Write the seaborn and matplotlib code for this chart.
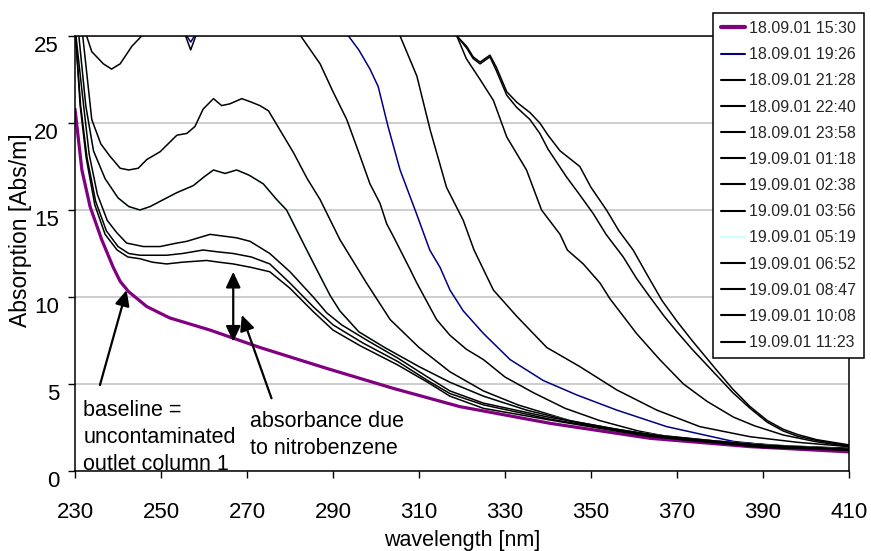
import matplotlib
matplotlib.use('Agg')
import pandas as pd
import matplotlib.pyplot as plt
import seaborn as sns

# --- DATA ---
labels = ['18.09.01 15:30', '18.09.01 19:26', '18.09.01 21:28', '18.09.01 22:40',
          '18.09.01 23:58', '19.09.01 01:18', '19.09.01 02:38', '19.09.01 03:56',
          '19.09.01 05:19', '19.09.01 06:52', '19.09.01 08:47', '19.09.01 10:08',
          '19.09.01 11:23']
colors = ['#800080', '#000080', 'black', 'black', 'black', 'black', 'black', 'black',
          '#CCFFFF', 'black', 'black', 'black', 'black']

# baseline (uncontaminated)
wl_1530 = [230, 231.6, 233.5, 236.2, 238.9, 240.5, 242.5, 246.7, 252, 261.4, 273, 288.5,
           304, 319.5, 340.5, 363.7, 387, 410]
ab_1530 = [20.8, 17.3, 15.2, 13.3, 11.7, 10.9, 10.3, 9.45, 8.8, 8.1, 7.1, 5.9,
           4.75, 3.7, 2.74, 1.88, 1.4, 1.1]

wl_1926 = [230, 253, 256.9, 260.8, 280, 293.6, 296, 298.6, 300.5, 302.8, 305.6, 309.4,
           312.5, 314.9, 317.2, 320.3, 325, 331.2, 338.9, 346.7, 356, 367.6, 383.1, 394.7, 410]
ab_1926 = [29, 26.2, 24.65, 26.2, 28, 25, 24.2, 23.1, 22.1, 19.8, 17.3, 14.8,
           12.7, 11.7, 10.4, 9.2, 7.9, 6.4, 5.2, 4.37, 3.5, 2.55, 1.7, 1.4, 1.2]

wl_2128 = [230, 300, 318.8, 321, 324.2, 327.3, 330.4, 335, 338.5, 342.8, 344.5, 348.2,
           352.1, 354.4, 360.6, 366, 371.5, 377, 383.1, 388, 394.7, 402, 410]
ab_2128 = [30, 28, 25, 23.7, 22.5, 21.3, 19.2, 17.3, 15.0, 13.6, 12.7, 11.9,
           10.8, 9.9, 7.9, 6.4, 5.0, 4.0, 3.1, 2.6, 2.07, 1.7, 1.4]

wl_2240 = [230, 300, 318.8, 321.1, 322.6, 324.2, 326.5, 328, 330.4, 332.7, 335.8, 338.1,
           340, 342.8, 347.4, 350, 353.6, 356.5, 359.8, 363, 366.5, 370, 373.5, 379.2,
           383, 387, 391, 394.7, 398, 402.5, 410]
ab_2240 = [30, 28, 25, 24.4, 23.8, 23.5, 23.9, 23.2, 21.8, 21.2, 20.6, 20.0,
           19.3, 18.4, 17.5, 16.3, 15.0, 13.8, 12.7, 11.3, 9.8, 8.6, 7.5, 5.8,
           4.7, 3.7, 2.9, 2.4, 2.1, 1.8, 1.5]

wl_2358 = [230, 300, 318.8, 321.1, 322.6, 324.2, 326.5, 328, 330.4, 332.7, 335.8, 338.1,
           340, 344.3, 347, 350.5, 353.5, 357.5, 360.5, 363.7, 367, 370, 373.5, 379.2,
           383, 387, 391, 394.7, 398, 402.5, 410]
ab_2358 = [30, 28, 25, 24.3, 23.7, 23.4, 23.8, 23.0, 21.6, 20.9, 20.2, 19.4,
           18.5, 16.9, 16.0, 14.8, 13.6, 12.3, 11.1, 10.0, 8.9, 8.0, 7.0, 5.5,
           4.5, 3.6, 2.8, 2.3, 2.0, 1.75, 1.45]

wl_0118 = [230, 253.5, 256.9, 260.3, 290, 305.6, 309.5, 312.6, 316.4, 320.3, 322.8, 327.3,
           332.7, 339.7, 347.4, 356, 365.3, 375.3, 387, 398, 410]
ab_0118 = [29, 26.5, 24.2, 26.5, 28, 25, 22.7, 19.6, 16.3, 14.4, 12.7, 10.4,
           8.9, 7.1, 6.0, 4.66, 3.5, 2.55, 1.97, 1.65, 1.4]

wl_0238 = [230, 232.7, 233.9, 236.6, 238.5, 240.5, 243.2, 245.5, 250, 265, 278, 282.5,
           287, 290, 293.2, 296, 298.6, 300.9, 302.5, 304, 307.9, 309.5, 314.1, 317.2,
           321, 325, 330, 336.6, 344, 352, 361, 371.5, 390, 410]
ab_0238 = [30, 25, 24.1, 23.4, 23.1, 23.4, 24.4, 25, 26.5, 28, 27, 25,
           23.4, 21.8, 20.2, 18.3, 16.5, 15.4, 14.2, 13.5, 11.6, 10.8, 8.7, 7.8,
           7.0, 6.4, 5.4, 4.5, 3.6, 2.9, 2.3, 1.8, 1.45, 1.3]

wl_0356 = [230, 231.8, 233.9, 236, 238.1, 240.5, 242.5, 244.7, 246.7, 249.8, 253.7, 256,
           257.9, 259.8, 262.2, 264.1, 266, 268.8, 271, 273, 275, 280.8, 284, 287,
           291.6, 297.8, 303.3, 310, 317.2, 325, 333, 345, 360, 380, 395, 410]
ab_0356 = [27, 25, 20.2, 18.8, 18.1, 17.4, 17.3, 17.4, 17.9, 18.35, 19.3, 19.4,
           19.8, 20.8, 21.4, 21.0, 21.1, 21.4, 21.2, 21.0, 20.7, 18.3, 16.8, 15.6,
           13.3, 10.8, 8.7, 7.1, 5.7, 4.6, 3.8, 2.9, 2.2, 1.7, 1.45, 1.3]

wl_0652 = [230, 230.9, 232.5, 234.3, 237, 240, 242.5, 245.1, 247.5, 249.8, 253.7, 257.5,
           260, 262.2, 264.9, 267.6, 270.5, 273.8, 276.9, 279.2, 283.9, 287, 289.3, 291.6,
           296, 302, 310, 317.2, 325, 335, 350, 370, 390, 410]
ab_0652 = [26, 25, 21, 18.4, 16.8, 15.7, 15.2, 15.0, 15.2, 15.5, 16.0, 16.4,
           16.9, 17.3, 17.1, 17.3, 17.0, 16.5, 15.6, 15.0, 12.7, 11.2, 10.1, 9.2,
           8.0, 7.1, 6.0, 5.1, 4.3, 3.5, 2.6, 1.9, 1.5, 1.25]

# 05:19 is drawn in light cyan and lies hidden under the 06:52 trace
wl_0519 = list(wl_0652)
ab_0519 = list(ab_0652)

wl_0847 = [230, 232, 233.3, 235.2, 237.5, 239.7, 242, 245.9, 249.8, 253.7, 256, 261.4,
           264.5, 267.6, 270.7, 275.3, 280, 285.4, 288.5, 292, 298, 305, 312, 317.2,
           325, 340, 363, 390, 410]
ab_0847 = [25.5, 21, 18.2, 15.9, 14.4, 13.7, 13.1, 12.9, 12.9, 13.1, 13.2, 13.6,
           13.5, 13.4, 13.2, 12.5, 11.45, 10.0, 9.1, 8.4, 7.5, 6.5, 5.4, 4.6,
           3.9, 3.1, 2.1, 1.45, 1.25]

wl_1008 = [230, 231.3, 232.8, 234.8, 237.3, 240, 242.5, 245.1, 251.3, 255, 259.8, 263,
           266.8, 271, 275.3, 280, 285.4, 290, 297, 305, 312, 317.2, 325, 340, 363, 390, 410]
ab_1008 = [25.5, 21, 18, 15.5, 13.8, 12.9, 12.5, 12.4, 12.4, 12.5, 12.7, 12.6,
           12.5, 12.3, 11.9, 10.8, 9.44, 8.4, 7.35, 6.3, 5.2, 4.45, 3.8, 3.0, 2.05, 1.4, 1.2]

wl_1123 = [230, 231.2, 232.6, 234.6, 237, 239.8, 242.3, 245.1, 248, 251.3, 255, 260.6,
           263.5, 266.8, 271, 275.3, 280, 285.4, 290, 296.3, 305, 312, 317.2, 325,
           340, 363, 390, 410]
ab_1123 = [25.5, 21, 18, 15.3, 13.6, 12.7, 12.3, 12.2, 12.0, 11.9, 12.0, 12.1,
           12.0, 11.9, 11.7, 11.45, 10.5, 9.16, 8.1, 7.2, 6.1, 5.1, 4.3, 3.6,
           2.95, 2.0, 1.35, 1.2]

wavelengths = [wl_1530, wl_1926, wl_2128, wl_2240, wl_2358, wl_0118, wl_0238, wl_0356,
               wl_0519, wl_0652, wl_0847, wl_1008, wl_1123]
absorptions = [ab_1530, ab_1926, ab_2128, ab_2240, ab_2358, ab_0118, ab_0238, ab_0356,
               ab_0519, ab_0652, ab_0847, ab_1008, ab_1123]

# --- STYLE ---
sns.set_theme(style='white')
plt.rcParams['font.family'] = ['Liberation Sans', 'DejaVu Sans']

fig = plt.figure(figsize=(8.71, 5.51), dpi=100)
ax = fig.add_axes([75 / 871, 80 / 551, 774 / 871, 435 / 551])

for lab, col, wl, ab in zip(labels, colors, wavelengths, absorptions):
    df = pd.DataFrame({'wavelength': wl, 'absorption': ab})
    lw = 2.3 if lab == labels[0] else 1.1
    sns.lineplot(data=df, x='wavelength', y='absorption', ax=ax, color=col,
                 linewidth=lw, label=lab, sort=False, estimator=None)

ax.set_xlim(230, 410)
ax.set_ylim(0, 25)
ax.set_xticks(range(230, 411, 20))
ax.set_yticks(range(0, 26, 5))
ax.grid(axis='y', color='#c0c0c0', linewidth=1.1)
ax.grid(axis='x', visible=False)
for sp in ax.spines.values():
    sp.set_color('black')
    sp.set_linewidth(1.1)
ax.tick_params(axis='x', direction='out', length=5, width=1, pad=17, labelsize=16,
               colors='black', bottom=True)
ax.tick_params(axis='y', direction='out', length=5, width=1, pad=6.5, labelsize=16,
               colors='black', left=True)
for t in ax.get_yticklabels():
    t.set_verticalalignment('top')

ax.set_xlabel('wavelength [nm]', fontsize=15.5, color='black')
ax.set_ylabel('Absorption [Abs/m]', fontsize=16.5, color='black')
ax.xaxis.set_label_coords(0.5, -0.1356)
ax.yaxis.set_label_coords(-0.0556, 0.554)

# --- ANNOTATIONS ---
head = '-|>,head_length=0.47,head_width=0.22'
ax.annotate('', xy=(242.0, 10.4), xytext=(235.8, 4.94),
            arrowprops=dict(arrowstyle=head, lw=1.6, color='black',
                            shrinkA=0, shrinkB=0, mutation_scale=20))
ax.annotate('', xy=(266.8, 11.45), xytext=(266.8, 7.43),
            arrowprops=dict(arrowstyle='<|-|>,head_length=0.47,head_width=0.22', lw=1.6,
                            color='black', shrinkA=0, shrinkB=0, mutation_scale=20))
ax.annotate('', xy=(268.8, 8.97), xytext=(275.7, 4.18),
            arrowprops=dict(arrowstyle=head, lw=1.6, color='black',
                            shrinkA=0, shrinkB=0, mutation_scale=20))

for txt, y in zip(['baseline =', 'uncontaminated', 'outlet column 1'], [3.18, 1.63, 0.06]):
    ax.text(231.9, y, txt, fontsize=15.5, va='baseline', ha='left', color='black')
for txt, y in zip(['absorbance due', 'to nitrobenzene'], [2.55, 0.99]):
    ax.text(270.7, y, txt, fontsize=15.5, va='baseline', ha='left', color='black')

# --- LEGEND ---
leg = ax.legend(loc='upper left', bbox_to_anchor=(713 / 871, 1 - 13 / 551),
                bbox_transform=fig.transFigure, borderaxespad=0, frameon=True,
                fancybox=False, edgecolor='black', framealpha=1,
                prop={'size': 11.5}, handlelength=1.5,
                handletextpad=0.25, borderpad=0.5, labelspacing=0.7)
leg.get_frame().set_linewidth(1.1)
for line in leg.get_lines():
    line.set_linewidth(3.0 if line.get_color() == '#800080' else 1.5)

fig.savefig('out.png', dpi=100)
